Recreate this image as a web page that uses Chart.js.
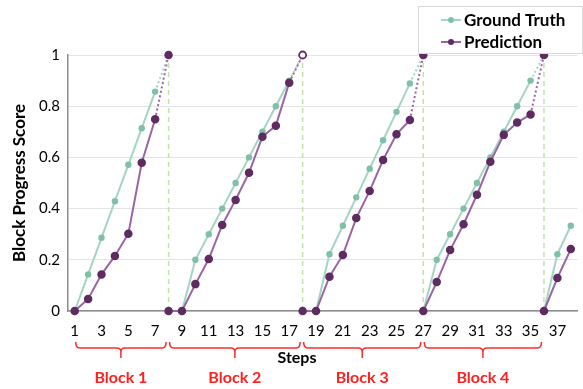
<!DOCTYPE html>
<html>
<head>
<meta charset="utf-8">
<script src="https://cdn.jsdelivr.net/npm/chart.js@4"></script>
<style>
  html, body { margin: 0; padding: 0; background: #fff; }
  #wrap { width: 583px; height: 389px; }
</style>
</head>
<body>
<div id="wrap"><canvas id="Chart"></canvas></div>
<script>
// values, one array per block
const blockStart = [1, 8, 18, 27, 36];
const blockLabels = ['Block 1', 'Block 2', 'Block 3', 'Block 4'];
const gtValues = [
  [0, 0.143, 0.286, 0.429, 0.571, 0.714, 0.857, 1],
  [0, 0, 0.2, 0.3, 0.4, 0.5, 0.6, 0.7, 0.8, 0.9, 1],
  [0, 0, 0.222, 0.333, 0.444, 0.556, 0.667, 0.778, 0.889, 1],
  [0, 0.2, 0.3, 0.4, 0.5, 0.6, 0.7, 0.8, 0.9, 1],
  [0, 0.222, 0.333]
];
const predValues = [
  [0, 0.047, 0.143, 0.215, 0.302, 0.579, 0.749, 1],
  [0, 0, 0.105, 0.203, 0.336, 0.434, 0.54, 0.681, 0.724, 0.892, 1],
  [0, 0, 0.134, 0.219, 0.363, 0.469, 0.59, 0.69, 0.746, 1],
  [0, 0.113, 0.238, 0.339, 0.454, 0.583, 0.688, 0.736, 0.768, 1],
  [0, 0.129, 0.242]
];
const boundarySteps = [8, 18, 27, 36];
const stepTicks = [1, 3, 5, 7, 9, 11, 13, 15, 17, 19, 21, 23, 25, 27, 29, 31, 33, 35, 37];
const openEndStep = 18; // the hollow marker at end of block 2

const FONT = 'Lato';
const gtLine = '#a3d5c3', gtDot = '#7fc0a6';
const predLine = '#9a64a6', predDot = '#5e2c60';

function toPoints(blocks) {
  let pts = [];
  blocks.forEach(function (vals, b) {
    vals.forEach(function (v, i) { pts.push({x: blockStart[b] + i, y: v}); });
    pts.push({x: blockStart[b] + vals.length - 1, y: null}); // break between blocks
  });
  return pts;
}

let boundaryPts = [];
boundarySteps.forEach(function (s) {
  boundaryPts.push({x: s, y: 0}, {x: s, y: 1}, {x: s, y: null});
});

const dotted = function (ctx) { return ctx.p1.parsed.y === 1 ? [2, 2.5] : undefined; };
const isOpen = function (c) { return c.raw && c.raw.x === openEndStep && c.raw.y === 1; };

const extras = {
  id: 'extras',
  afterDraw(chart) {
    const c = chart.ctx;
    const xs = chart.scales.x;
    c.save();
    // y title
    c.save();
    c.translate(20, (chart.chartArea.top + chart.chartArea.bottom) / 2);
    c.rotate(-Math.PI / 2);
    c.font = 'bold 17px ' + FONT;
    c.fillStyle = '#000';
    c.textAlign = 'center';
    c.textBaseline = 'middle';
    c.fillText('Block Progress Score', 0, 0);
    c.restore();

    // braces + block names
    c.strokeStyle = '#ff2a2a';
    c.lineWidth = 1.5;
    for (let k = 0; k < blockLabels.length; k++) {
      let x1 = xs.getPixelForValue(blockStart[k]) + 1;
      let x2 = xs.getPixelForValue(blockStart[k + 1]) - 2.5;
      let xm = (x1 + x2) / 2;
      let yt = 342, ym = 348, yb = 358, r = 4;
      c.beginPath();
      c.moveTo(x1, yt);
      c.quadraticCurveTo(x1, ym, x1 + r, ym);
      c.lineTo(xm - r, ym);
      c.quadraticCurveTo(xm, ym, xm, ym + r);
      c.lineTo(xm, yb);
      c.moveTo(xm, ym + r);
      c.quadraticCurveTo(xm, ym, xm + r, ym);
      c.lineTo(x2 - r, ym);
      c.quadraticCurveTo(x2, ym, x2, yt);
      c.stroke();
      c.font = 'bold 16px ' + FONT;
      c.fillStyle = '#ff2020';
      c.textAlign = 'center';
      c.textBaseline = 'middle';
      c.fillText(blockLabels[k], xm, 378);
    }

    // x title
    c.font = 'bold 16px ' + FONT;
    c.fillStyle = '#000';
    c.textAlign = 'center';
    c.textBaseline = 'middle';
    c.fillText('Steps', 297, 358);

    // legend box
    c.fillStyle = '#fff';
    c.fillRect(418, 6, 164, 47);
    c.strokeStyle = '#d9d9d9';
    c.lineWidth = 1;
    c.strokeRect(418.5, 6.5, 164, 47);
    const rows = [['Ground Truth', gtLine, gtDot, 20], ['Prediction', predLine, predDot, 42]];
    rows.forEach(function (r) {
      c.strokeStyle = r[1];
      c.lineWidth = 2;
      c.beginPath();
      c.moveTo(441, r[3]);
      c.lineTo(461, r[3]);
      c.stroke();
      c.fillStyle = r[2];
      c.beginPath();
      c.arc(451, r[3], 3, 0, Math.PI * 2);
      c.fill();
      c.font = 'bold 17px ' + FONT;
      c.fillStyle = '#000';
      c.textAlign = 'left';
      c.textBaseline = 'middle';
      c.fillText(r[0], 464, r[3] + 1);
    });
    c.restore();
  }
};

let ctx = document.getElementById('Chart').getContext('2d');
let myChart = new Chart(ctx, {
  type: 'line',
  data: {
    datasets: [{
      label: 'Prediction',
      data: toPoints(predValues),
      borderColor: predLine,
      borderWidth: 2,
      clip: false,
      pointRadius: 3.5,
      pointBorderWidth: function (c) { return isOpen(c) ? 1.8 : 1.5; },
      pointBorderColor: predDot,
      pointBackgroundColor: function (c) { return isOpen(c) ? '#fff' : predDot; },
      segment: { borderDash: dotted },
      order: 0
    }, {
      label: 'Ground Truth',
      data: toPoints(gtValues),
      borderColor: gtLine,
      borderWidth: 2,
      pointRadius: function (c) { return c.raw && c.raw.y === 1 ? 0 : 3.2; },
      pointBorderWidth: 0,
      pointBackgroundColor: gtDot,
      segment: { borderDash: dotted },
      order: 1
    }, {
      label: 'boundary',
      data: boundaryPts,
      borderColor: '#c4e2a8',
      borderWidth: 1.5,
      borderDash: [5, 4],
      pointRadius: 0,
      order: 2
    }]
  },
  options: {
    responsive: true,
    maintainAspectRatio: false,
    animation: false,
    spanGaps: false,
    layout: { padding: { top: 55, right: 0, left: 0, bottom: 0 } },
    plugins: { legend: { display: false }, tooltip: { enabled: false } },
    scales: {
      x: {
        type: 'linear',
        min: 0.5,
        max: 38.5,
        afterBuildTicks: function (s) { s.ticks = stepTicks.map(function (v) { return {value: v}; }); },
        afterFit: function (s) { s.height = 78; },
        grid: { display: false, drawTicks: false },
        border: { display: true, color: '#8c8c8c', width: 1.5 },
        ticks: { color: '#000', font: { family: FONT, size: 15 }, padding: 11, maxRotation: 0, autoSkip: false }
      },
      y: {
        min: 0,
        max: 1,
        ticks: {
          stepSize: 0.2, color: '#000', font: { family: FONT, size: 15 }, padding: 8,
          callback: function (v) { return String(Math.round(v * 10) / 10); }
        },
        afterFit: function (s) { s.width = 68; },
        grid: { color: '#e4e4e4', drawTicks: false },
        border: { display: true, color: '#8c8c8c', width: 1.5 }
      }
    }
  },
  plugins: [extras]
});
</script>
</body>
</html>
